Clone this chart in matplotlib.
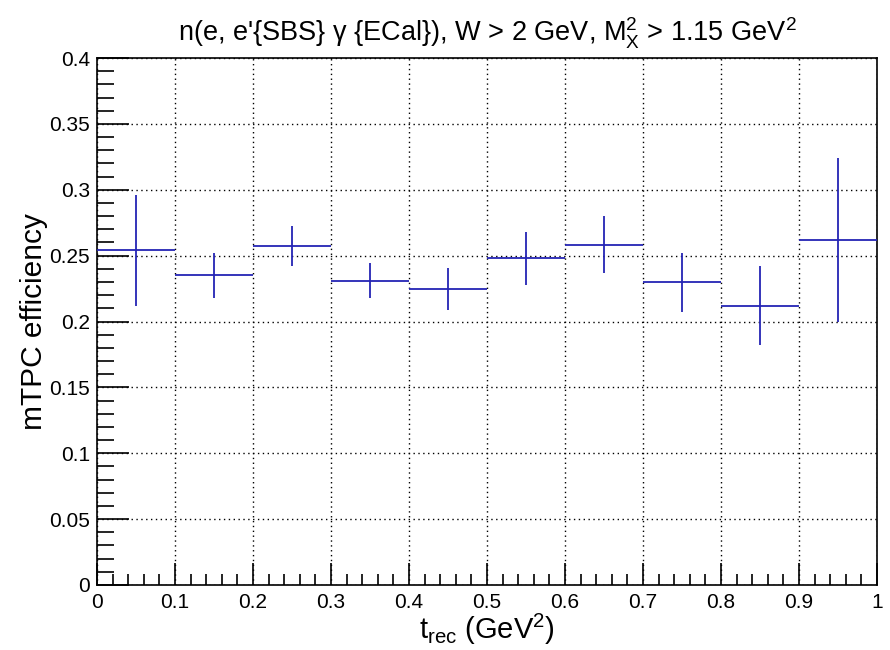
import numpy as np
import matplotlib
matplotlib.use("Agg")
import matplotlib.pyplot as plt

# mTPC efficiency vs t_rec, 10 bins of 0.1 GeV^2
t_centers = np.array([0.05, 0.15, 0.25, 0.35, 0.45, 0.55, 0.65, 0.75, 0.85, 0.95])
t_halfwidth = np.full(10, 0.05)
eff = np.array([0.254, 0.235, 0.2575, 0.231, 0.2247, 0.248, 0.2583, 0.2297, 0.212, 0.262])
eff_err = np.array([0.042, 0.017, 0.015, 0.0135, 0.0157, 0.020, 0.0215, 0.0225, 0.030, 0.062])

plt.rcParams['font.family'] = ['Liberation Sans', 'DejaVu Sans']

fig = plt.figure(figsize=(8.9, 6.5), dpi=100)
ax = fig.add_axes([97/890, 1 - 585/650, 780/890, 527/650])

ax.errorbar(t_centers, eff, xerr=t_halfwidth, yerr=eff_err, fmt='none',
            ecolor='#2424b4', elinewidth=1.3, capsize=0, zorder=3)

ax.set_xlim(0, 1)
ax.set_ylim(0, 0.4)
ax.set_xticks(np.arange(0, 1.01, 0.1))
ax.set_xticklabels(['0', '0.1', '0.2', '0.3', '0.4', '0.5', '0.6', '0.7', '0.8', '0.9', '1'])
ax.set_xticks(np.arange(0, 1.001, 0.02), minor=True)
ax.set_yticks(np.arange(0, 0.401, 0.05))
ax.set_yticklabels(['0', '0.05', '0.1', '0.15', '0.2', '0.25', '0.3', '0.35', '0.4'])
ax.set_yticks(np.arange(0, 0.4001, 0.01), minor=True)

ax.tick_params(axis='both', which='both', direction='in', labelsize=15, width=1.2)
ax.tick_params(axis='x', which='major', length=16, pad=6)
ax.tick_params(axis='x', which='minor', length=8)
ax.tick_params(axis='y', which='major', length=23, pad=5)
ax.tick_params(axis='y', which='minor', length=12)

ax.grid(True, which='major', color='black', linestyle=(0, (1, 2.5)), linewidth=1.0)
for s in ax.spines.values():
    s.set_linewidth(1.2)

ax.set_xlabel(r'$\mathregular{t_{rec}}$ (GeV$\mathregular{^2}$)', fontsize=21)
ax.xaxis.set_label_coords(0.5, -0.05)
ax.set_ylabel('mTPC efficiency', fontsize=21.5)
ax.yaxis.set_label_coords(-0.063, 0.5)

ax.set_title(r"n(e, e'{SBS} $\mathregular{\gamma}$ {ECal}), W > 2 GeV, "
             r"$\mathregular{M_X^2}$ > 1.15 GeV$\mathregular{^2}$", fontsize=19.5, pad=12)

fig.savefig('out.png', dpi=100)
